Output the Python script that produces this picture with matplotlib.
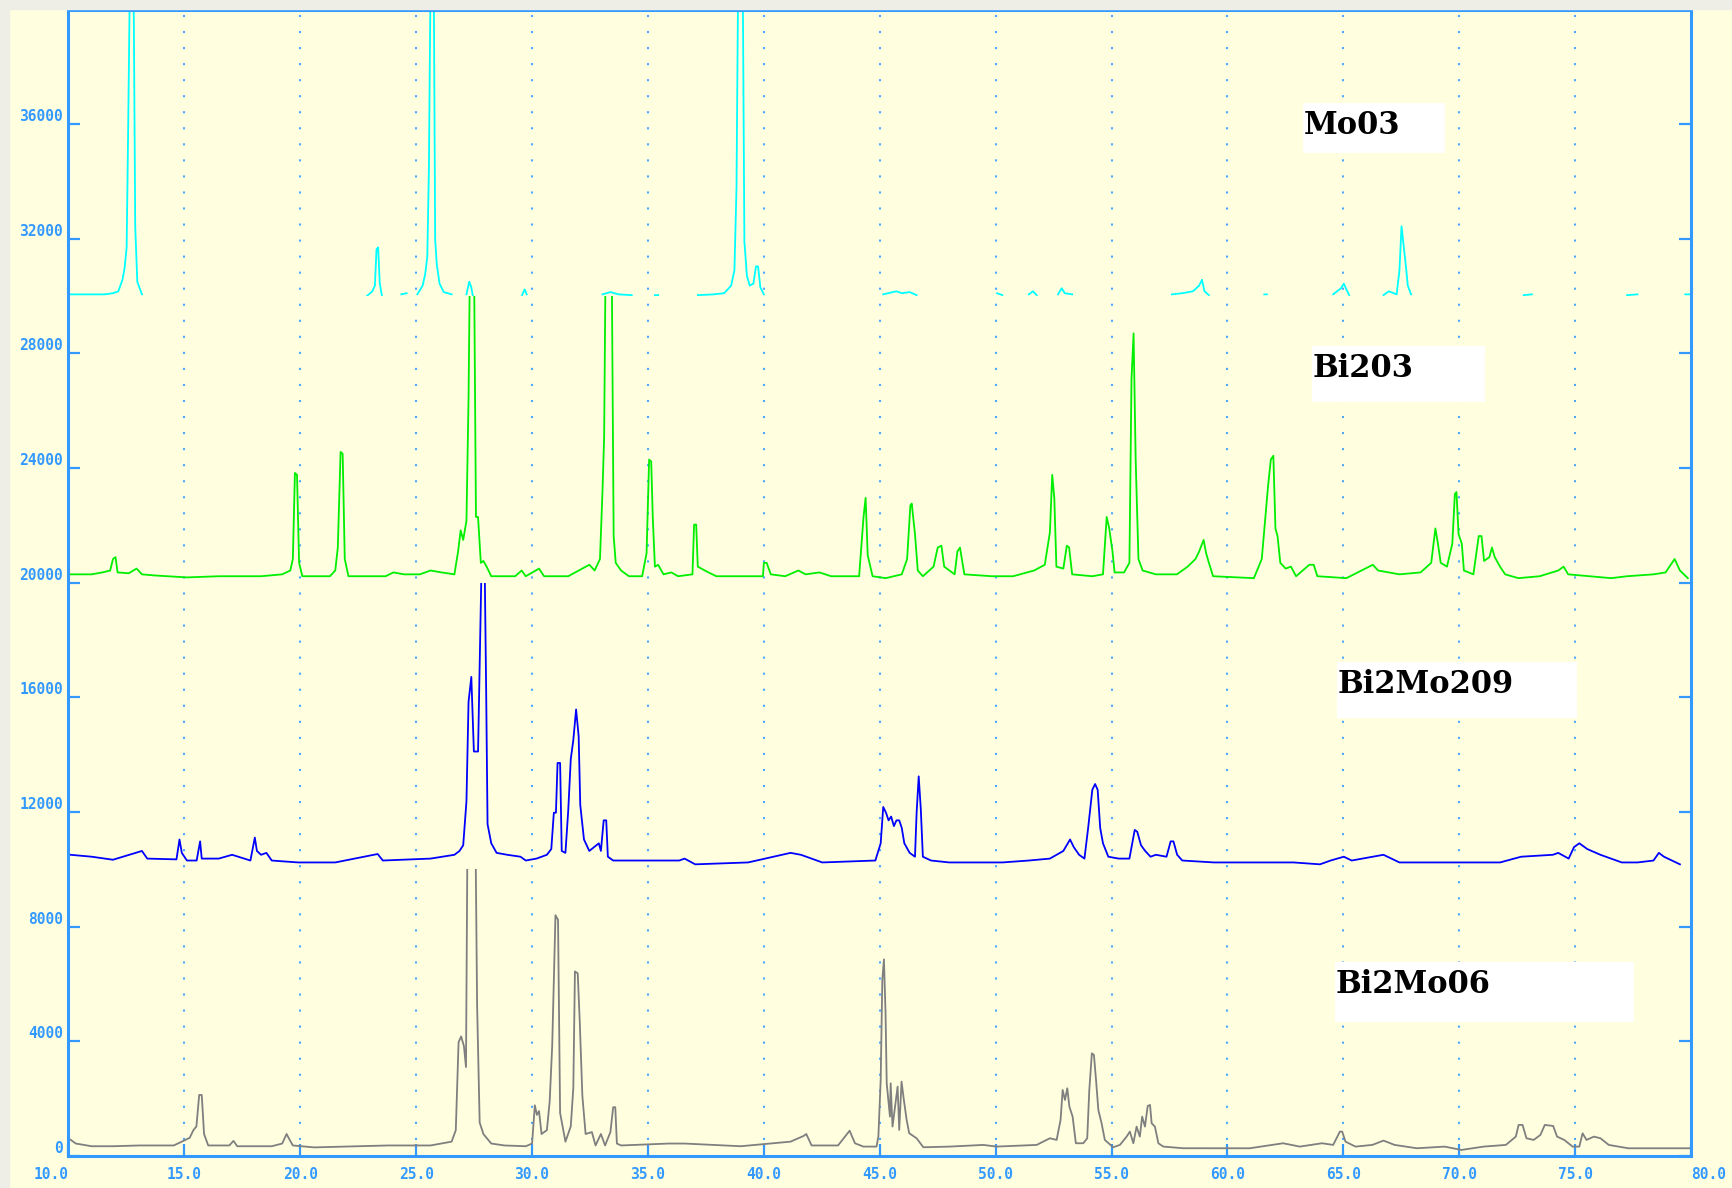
import numpy as np
from matplotlib import pyplot as plt
from matplotlib.patches import Rectangle

nan = np.nan

# 2theta (deg) and counts above each trace's own offset
tt_bi2moo6 = [10.09, 10.32, 11.0, 11.92, 13.06, 14.54, 14.89, 15.23, 15.39, 15.52, 15.64, 15.75, 15.85, 16.03,
              16.94, 17.12, 17.28, 18.77, 19.22, 19.41, 19.54, 19.68, 20.6, 22.42, 23.79, 25.62, 26.53, 26.71,
              26.83, 26.94, 27.06, 27.15, 27.22, 27.38, 27.55, 27.63, 27.74, 27.9, 28.24, 28.81, 29.73, 30.0,
              30.12, 30.21, 30.3, 30.41, 30.64, 30.76, 30.87, 31.01, 31.12, 31.21, 31.44, 31.67, 31.78, 31.85,
              31.97, 32.06, 32.17, 32.31, 32.58, 32.74, 32.97, 33.15, 33.38, 33.5, 33.59, 33.66, 33.84, 35.89,
              36.58, 39.0, 41.15, 41.72, 41.83, 42.06, 43.2, 43.7, 43.93, 44.29, 44.86, 44.94, 45.04, 45.11,
              45.18, 45.25, 45.3, 45.44, 45.47, 45.55, 45.77, 45.84, 45.94, 46.04, 46.16, 46.27, 46.59, 46.88,
              48.03, 49.47, 50.04, 51.77, 52.34, 52.63, 52.8, 52.89, 52.99, 53.09, 53.18, 53.32, 53.46, 53.78,
              53.95, 54.04, 54.15, 54.24, 54.33, 54.43, 54.57, 54.71, 55.07, 55.36, 55.65, 55.79, 55.94, 56.08,
              56.22, 56.32, 56.44, 56.56, 56.66, 56.73, 56.87, 57.02, 57.23, 58.09, 59.68, 60.96, 62.4, 63.12,
              64.08, 64.56, 64.85, 64.95, 65.09, 65.52, 66.25, 66.73, 67.21, 68.17, 69.37, 70.09, 71.05, 72.01,
              72.44, 72.56, 72.73, 72.9, 73.21, 73.5, 73.69, 74.05, 74.22, 74.53, 74.89, 75.18, 75.32, 75.49,
              75.81, 76.09, 76.45, 77.29, 78.74, 79.94]
cnt_bi2moo6 = [565, 432, 338, 338, 365, 365, 498, 632, 899, 1032, 2127, 2127, 765, 365,
               365, 525, 338, 338, 432, 765, 565, 365, 298, 338, 365, 365, 498, 899,
               3968, 4169, 3835, 3101, 12000, 12500, 12000, 5236, 1166, 765, 432, 365, 338, 432,
               1766, 1432, 1566, 765, 899, 1900, 3861, 8399, 8239, 1499, 498, 1032, 2367, 6437,
               6371, 4636, 2100, 765, 832, 365, 765, 365, 832, 1699, 1699, 432, 365, 432,
               432, 338, 498, 699, 765, 365, 365, 880, 442, 326, 326, 674, 2650, 6137,
               6858, 4975, 2534, 1372, 2534, 1023, 2418, 907, 2592, 1953, 1255, 791, 616, 302,
               326, 384, 326, 384, 616, 558, 1255, 2302, 1953, 2360, 1720, 1372, 442, 442,
               616, 2302, 3580, 3522, 2650, 1604, 1139, 558, 302, 384, 674, 849, 442, 1023,
               674, 1372, 1023, 1744, 1778, 1139, 1023, 442, 326, 268, 268, 267, 442, 325,
               442, 384, 848, 848, 500, 325, 384, 535, 384, 267, 325, 209, 325, 384,
               674, 1081, 1081, 616, 558, 732, 1081, 1046, 674, 558, 325, 325, 790, 558,
               674, 616, 384, 267, 267, 267]

tt_bi2mo2o9 = [10.09, 11.0, 11.92, 13.17, 13.4, 14.66, 14.79, 14.89, 15.11, 15.53, 15.68, 15.75, 16.48, 17.06,
               17.85, 18.04, 18.13, 18.31, 18.54, 18.77, 19.91, 21.51, 23.34, 23.56, 25.62, 26.65, 26.87, 27.03,
               27.17, 27.26, 27.38, 27.49, 27.67, 27.83, 27.95, 28.02, 28.08, 28.24, 28.47, 28.93, 29.5, 29.73,
               30.19, 30.64, 30.83, 30.94, 31.03, 31.1, 31.21, 31.28, 31.44, 31.56, 31.67, 31.78, 31.9, 32.01,
               32.08, 32.24, 32.47, 32.88, 32.97, 33.09, 33.2, 33.27, 33.5, 36.35, 36.58, 37.04, 39.32, 41.15,
               41.6, 42.52, 44.81, 45.04, 45.15, 45.27, 45.38, 45.49, 45.61, 45.72, 45.84, 45.95, 46.06, 46.29,
               46.52, 46.59, 46.68, 46.77, 46.86, 47.21, 48.0, 49.15, 50.29, 51.43, 52.34, 52.92, 53.21, 53.37,
               53.6, 53.83, 53.99, 54.17, 54.29, 54.4, 54.51, 54.63, 54.86, 55.31, 55.77, 56.0, 56.11, 56.27,
               56.45, 56.68, 56.91, 57.37, 57.55, 57.67, 57.83, 58.05, 59.42, 60.57, 62.85, 63.99, 64.45, 65.02,
               65.36, 66.73, 67.42, 69.7, 71.76, 72.67, 74.04, 74.27, 74.72, 74.95, 75.18, 75.52, 76.09, 76.55,
               77.01, 77.69, 78.38, 78.61, 78.83, 79.52]
cnt_bi2mo2o9 = [507, 440, 334, 641, 374, 347, 1041, 574, 307, 307, 975, 374, 374, 507,
                307, 1108, 641, 507, 574, 307, 240, 240, 534, 307, 374, 507, 641, 841,
                2376, 5845, 6713, 4110, 4110, 11000, 11000, 6246, 1575, 908, 574, 507, 440, 307,
                374, 507, 708, 1975, 1975, 3710, 3710, 641, 574, 2042, 3844, 4511, 5578, 4644,
                2242, 1041, 641, 908, 641, 1708, 1708, 440, 307, 307, 374, 174, 240, 574,
                507, 240, 307, 908, 2175, 1975, 1708, 1842, 1508, 1708, 1708, 1442, 908, 574,
                440, 1975, 3243, 2109, 440, 307, 240, 240, 240, 307, 374, 641, 1041, 775,
                507, 374, 1442, 2776, 2976, 2776, 1442, 908, 440, 374, 374, 1375, 1308, 841,
                641, 440, 507, 440, 975, 975, 507, 307, 240, 240, 240, 174, 307, 440,
                307, 507, 240, 240, 240, 440, 507, 574, 374, 775, 908, 708, 507, 374,
                240, 240, 307, 574, 440, 174]

tt_bi2o3 = [10.09, 11.0, 11.46, 11.8, 11.92, 12.03, 12.12, 12.6, 12.94, 13.17, 13.74, 15.11, 16.48, 18.31,
            19.22, 19.57, 19.68, 19.77, 19.86, 19.95, 20.09, 21.28, 21.51, 21.62, 21.74, 21.83, 21.92, 22.08,
            23.68, 24.02, 24.48, 25.16, 25.62, 26.1, 26.65, 26.81, 26.92, 27.03, 27.17, 27.26, 27.33, 27.49,
            27.58, 27.67, 27.79, 27.9, 28.04, 28.24, 29.27, 29.55, 29.73, 30.3, 30.52, 31.56, 32.47, 32.7,
            32.93, 33.04, 33.11, 33.18, 33.43, 33.52, 33.61, 33.84, 34.18, 34.75, 34.94, 35.05, 35.14, 35.21,
            35.3, 35.44, 35.67, 36.01, 36.3, 36.92, 36.99, 37.08, 37.15, 37.61, 37.95, 39.96, 40.0, 40.12,
            40.3, 40.92, 41.49, 41.8, 42.4, 42.9, 44.11, 44.3, 44.39, 44.48, 44.69, 45.26, 45.95, 46.18,
            46.32, 46.38, 46.52, 46.64, 46.86, 47.32, 47.5, 47.66, 47.78, 48.23, 48.35, 48.46, 48.65, 49.83,
            50.75, 51.66, 52.12, 52.34, 52.44, 52.53, 52.62, 52.92, 53.07, 53.17, 53.3, 54.17, 54.63, 54.79,
            54.9, 55.04, 55.13, 55.54, 55.77, 55.86, 55.95, 56.04, 56.16, 56.34, 56.91, 57.82, 58.28, 58.62,
            58.78, 58.97, 59.08, 59.2, 59.38, 61.14, 61.48, 61.75, 61.87, 61.98, 62.07, 62.16, 62.28, 62.51,
            62.74, 62.96, 63.53, 63.72, 63.88, 65.13, 66.27, 66.5, 67.42, 68.33, 68.79, 68.97, 69.08, 69.2,
            69.47, 69.7, 69.81, 69.88, 69.97, 70.11, 70.2, 70.61, 70.84, 70.96, 71.07, 71.3, 71.41, 71.53,
            71.76, 71.98, 72.55, 73.47, 74.27, 74.5, 74.7, 76.55, 77.24, 78.38, 78.9, 79.29, 79.52, 79.86]
cnt_bi2o3 = [292, 292, 359, 426, 826, 893, 359, 330, 493, 292, 252, 185, 226, 226,
             292, 426, 826, 3829, 3762, 693, 226, 226, 426, 1227, 4563, 4496, 826, 226,
             226, 359, 292, 292, 426, 359, 292, 1093, 1827, 1493, 2161, 6431, 12000, 12000,
             2294, 2294, 693, 760, 560, 226, 226, 426, 226, 493, 226, 226, 626, 426,
             826, 3228, 5097, 12000, 12000, 1627, 693, 426, 226, 226, 1027, 4296, 4229, 2228,
             560, 626, 292, 359, 226, 292, 2028, 2028, 560, 359, 226, 226, 693, 693,
             292, 226, 426, 292, 359, 226, 226, 2294, 2961, 960, 226, 159, 292, 826,
             2695, 2762, 1694, 426, 226, 560, 1227, 1293, 560, 292, 1093, 1227, 292, 226,
             226, 426, 626, 1760, 3762, 2961, 560, 493, 1293, 1227, 292, 226, 292, 2294,
             1894, 1093, 359, 359, 693, 7099, 8700, 4296, 826, 426, 292, 292, 560, 826,
             1093, 1493, 1027, 693, 226, 159, 826, 3362, 4296, 4430, 1894, 1627, 693, 493,
             560, 226, 626, 626, 226, 159, 626, 426, 292, 359, 693, 1894, 1360, 693,
             560, 1360, 3095, 3162, 1694, 1360, 426, 292, 1627, 1627, 760, 893, 1227, 893,
             560, 292, 159, 226, 426, 560, 292, 159, 226, 292, 359, 826, 426, 159]

# MoO3 trace is only drawn in fragments on the original, nan = gap
tt_moo3 = [10.09, 11.57, 11.92, 12.15, 12.33, 12.42, 12.51, 12.58, 12.65, 12.81, 12.88, 12.97, 13.17, nan,
           22.88, 23.11, 23.22, 23.29, 23.36, 23.43, 23.52, nan, 24.36, 24.59, nan,
           25.05, 25.28, 25.39, 25.48, 25.55, 25.62, 25.76, 25.82, 25.89, 26.01, 26.19, 26.53, nan,
           27.17, 27.29, 27.38, 27.44, nan, 29.57, 29.68, 29.77, nan, 33.04, 33.38, 33.73, 34.3, nan,
           35.3, 35.44, nan, 37.15, 37.84, 38.29, 38.59, 38.73, 38.82, 38.89, 39.09, 39.16, 39.27, 39.39,
           39.55, 39.66, 39.75, 39.85, 40.0, nan, 45.15, 45.72, 45.95, 46.29, 46.59, nan, 50.06, 50.29, nan,
           51.43, 51.61, 51.77, nan, 52.69, 52.85, 52.98, 53.3, nan, 57.6, 58.05, 58.51, 58.78, 58.9, 59.01,
           59.2, nan, 61.59, 61.7, nan, 64.56, 64.9, 65.02, 65.13, 65.25, nan, 66.73, 66.96, 67.3, 67.42,
           67.51, 67.6, 67.69, 67.78, 67.92, nan, 72.78, 73.13, nan, 77.24, 77.69, nan, 79.75, 79.93]
cnt_moo3 = [61, 61, 101, 168, 568, 968, 1703, 6106, 11000, 11000, 2437, 501, 61, nan,
            8, 168, 368, 1636, 1703, 435, 34, nan, 61, 101, nan,
            61, 368, 768, 1369, 4438, 11000, 11000, 1970, 1102, 435, 141, 61, nan,
            61, 501, 301, 34, nan, 34, 235, 61, nan, 61, 141, 61, 34, nan,
            34, 34, nan, 34, 61, 101, 368, 902, 3771, 11000, 11000, 1903, 702, 368,
            435, 1035, 1035, 301, 61, nan, 61, 168, 101, 141, 34, nan, 101, 34, nan,
            61, 168, 34, nan, 61, 274, 101, 61, nan, 61, 101, 168, 368, 568, 168,
            34, nan, 61, 61, nan, 61, 274, 435, 235, 34, nan, 34, 168, 61, 902,
            2437, 1769, 1102, 368, 61, nan, 34, 61, nan, 34, 61, nan, 61, 61]

names = ["Bi2Mo06", "Bi2Mo209", "Bi203", "Mo03"]
offsets = [0, 10000, 20000, 30000]
colors = ["#7f7f7f", "#0000ff", "#00ee00", "#00ffff"]
series = [(tt_bi2moo6, cnt_bi2moo6), (tt_bi2mo2o9, cnt_bi2mo2o9), (tt_bi2o3, cnt_bi2o3), (tt_moo3, cnt_moo3)]

# label boxes: x0, x1 (deg), y0, y1 (counts), text baseline
label_boxes = [(64.64, 77.54, 4673, 6765, 5684),
               (64.73, 75.08, 15273, 17226, 16145),
               (63.65, 71.11, 26292, 28245, 27164),
               (63.27, 69.39, 35010, 36753, 35672)]

bg = "#ffffe0"
axis_blue = "#3399ff"

fig = plt.figure(figsize=(17.33, 11.88), dpi=100, facecolor=bg)
ax = fig.add_axes([0.0395, 0.027, 0.9363, 0.965])
ax.set_facecolor(bg)

# pale screenshot edge on the far left / top
fig.patches.append(Rectangle((0, 0), 9 / 1733, 1, transform=fig.transFigure, color="#eeeee6", zorder=0))
fig.patches.append(Rectangle((0, 1 - 9 / 1188), 1, 9 / 1188, transform=fig.transFigure, color="#eeeee6", zorder=0))

for x in range(15, 80, 5):
    ax.axvline(x, color="#4da6ff", lw=1.5, linestyle=(0, (1, 6.7)), zorder=1)

for (tt, cnt), off, col in zip(series, offsets, colors):
    y = np.array(cnt, dtype=float) + off
    line, = ax.plot(tt, y, color=col, lw=1.3, zorder=2)
    # each pattern is cut off at the next pattern's offset
    clip = Rectangle((10, off), 70, 10000, transform=ax.transData)
    line.set_clip_path(clip)

for name, (x0, x1, y0, y1, yb) in zip(names, label_boxes):
    ax.add_patch(Rectangle((x0, y0), x1 - x0, y1 - y0, facecolor="white", edgecolor="none", zorder=3))
    ax.text(x0 + 0.03, yb, name, family="DejaVu Serif", weight="bold", fontsize=22,
            color="black", va="baseline", ha="left", zorder=4)

ax.set_xlim(10, 80)
ax.set_ylim(0, 40000)

ax.set_xticks(np.arange(10, 81, 5))
ax.set_xticklabels(["%.1f" % v for v in np.arange(10, 81, 5)])
ax.set_yticks(np.arange(0, 36001, 4000))
ax.set_yticklabels([str(v) for v in range(0, 36001, 4000)])

for s in ax.spines.values():
    s.set_color(axis_blue)
    s.set_linewidth(2.2)

ax.tick_params(axis="y", direction="in", left=True, right=True, length=8.5, width=1.6,
               color=axis_blue, labelcolor=axis_blue, labelsize=10.5, pad=4)
ax.tick_params(axis="x", direction="in", length=8.5, width=1.6,
               color=axis_blue, labelcolor=axis_blue, labelsize=10.5, pad=8)

for t in ax.get_yticklabels() + ax.get_xticklabels():
    t.set_family("DejaVu Sans Mono")
    t.set_weight("bold")
for t in ax.get_yticklabels():
    t.set_va("bottom")
xl = ax.get_xticklabels()
xl[0].set_ha("right")
xl[-1].set_ha("left")

fig.savefig("out.png", dpi=100, facecolor=bg)
